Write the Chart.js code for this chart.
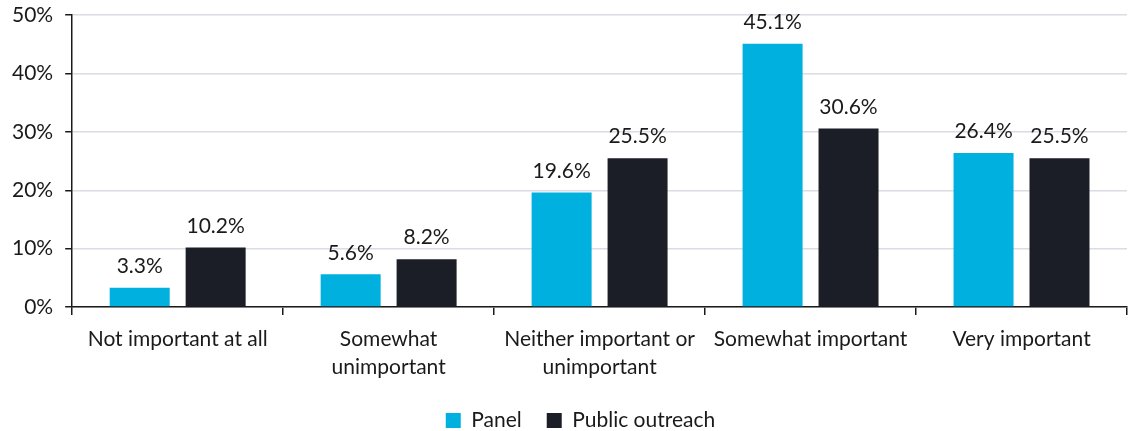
<!DOCTYPE html>
<html><head><meta charset="utf-8">
<script src="https://cdn.jsdelivr.net/npm/chart.js@4/dist/chart.umd.min.js"></script>
<style>html,body{margin:0;padding:0;background:#fff}#wrap{width:1129px;height:431px}</style>
</head><body><div id="wrap"><canvas id="c" width="1129" height="431"></canvas></div>
<script>
const categories = [["Not important at all"], ["Somewhat","unimportant"], ["Neither important or","unimportant"], ["Somewhat important"], ["Very important"]];
const panelValues = [3.3, 5.6, 19.6, 45.1, 26.4];
const publicValues = [10.2, 8.2, 25.5, 30.6, 25.5];
const seriesNames = ["Panel", "Public outreach"];
const yTicks = [0, 10, 20, 30, 40, 50];

const FONT = "Lato, 'Open Sans', sans-serif";
const FS = 21;
const labelPlugin = {
  id: 'valLabels',
  afterLayout(chart) {
    if (chart.legend) { chart.legend.left += 17; chart.legend.right += 17; }
  },
  afterDatasetsDraw(chart) {
    const ctx = chart.ctx;
    ctx.save();
    ctx.font = FS + "px " + FONT;
    ctx.fillStyle = "#1a1a1a";
    ctx.textAlign = "center";
    ctx.textBaseline = "bottom";
    chart.data.datasets.forEach((ds, i) => {
      chart.getDatasetMeta(i).data.forEach((el, j) => {
        ctx.fillText(ds.data[j].toFixed(1) + "%", el.x, el.y - 11);
      });
    });
    ctx.restore();
  }
};

new Chart(document.getElementById('c'), {
  type: 'bar',
  data: {
    labels: categories,
    datasets: [
      { label: seriesNames[0], data: panelValues, backgroundColor: '#00B0DF', categoryPercentage: 0.72, barPercentage: 0.79 },
      { label: seriesNames[1], data: publicValues, backgroundColor: '#1B1E26', categoryPercentage: 0.72, barPercentage: 0.79 }
    ]
  },
  options: {
    responsive: false,
    animation: false,
    layout: { padding: { top: -3, right: 2, left: 0, bottom: -10 } },
    plugins: {
      legend: {
        position: 'bottom',
        labels: { font: { size: FS, family: FONT }, color: '#1a1a1a', boxWidth: 15, boxHeight: 15, padding: 25, useBorderRadius: false }
      },
      tooltip: { enabled: false }
    },
    scales: {
      x: {
        offset: true,
        afterFit(axis) { axis.height = 78; },
        grid: { display: true, drawOnChartArea: false, drawTicks: true, tickLength: 8, color: '#1a1a1a', tickColor: '#1a1a1a', lineWidth: 1.5, offset: true },
        border: { color: '#1a1a1a', width: 1.5 },
        ticks: { font: { size: FS, family: FONT, lineHeight: 1.3 }, color: '#1a1a1a', padding: 11, maxRotation: 0, autoSkip: false }
      },
      y: {
        min: 0, max: 50,
        afterBuildTicks(axis) { axis.ticks = yTicks.map(v => ({ value: v })); },
        grid: { color: '#D9DCE3', tickColor: '#1a1a1a', tickLength: 7, lineWidth: 1.5 },
        border: { color: '#1a1a1a', width: 1.5 },
        ticks: { font: { size: FS, family: FONT, lineHeight: 0.3 }, color: '#1a1a1a', padding: 12, callback: v => v + '%' }
      }
    }
  },
  plugins: [labelPlugin]
});
</script></body></html>
